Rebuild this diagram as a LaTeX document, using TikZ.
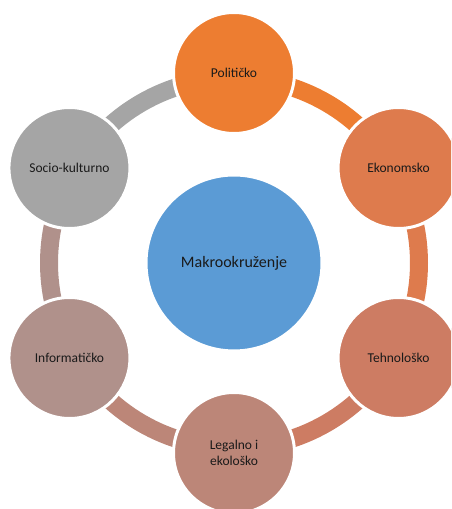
\documentclass[tikz,border=0pt]{standalone}
\usepackage{fontspec}
\setmainfont{Carlito}
\usetikzlibrary{calc}
\definecolor{cPol}{HTML}{ED7D31}
\definecolor{cEko}{HTML}{DE7B4D}
\definecolor{cTeh}{HTML}{CD7C63}
\definecolor{cLeg}{HTML}{BC8678}
\definecolor{cInf}{HTML}{B0918B}
\definecolor{cSoc}{HTML}{A5A5A5}
\definecolor{cCen}{HTML}{5B9BD5}
\definecolor{txt}{HTML}{1A1A1A}
\begin{document}
\begin{tikzpicture}[x=1pt,y=1pt,
  outer/.style={circle, draw=white, line width=3pt, minimum size=121pt, inner sep=0pt,
    font=\fontsize{13.5}{15.5}\selectfont, text=txt, align=center},
  ringarc/.style={line width=18pt}]
\useasboundingbox (0,0) rectangle (451,509);
\clip (0,0) rectangle (451,509);
\coordinate (c) at (234,246);
% ring arcs
\draw[ringarc, cPol] (c) ++(90:185) arc[start angle=90, end angle=30, radius=185];
\draw[ringarc, cEko] (c) ++(30:185) arc[start angle=30, end angle=-30, radius=185];
\draw[ringarc, cTeh] (c) ++(-30:185) arc[start angle=-30, end angle=-90, radius=185];
\draw[ringarc, cLeg] (c) ++(-90:185) arc[start angle=-90, end angle=-150, radius=185];
\draw[ringarc, cInf] (c) ++(-150:185) arc[start angle=-150, end angle=-210, radius=185];
\draw[ringarc, cSoc] (c) ++(150:185) arc[start angle=150, end angle=90, radius=185];
% center
\node[circle, fill=cCen, draw=white, line width=2pt, minimum size=175pt, inner sep=0pt,
  font=\fontsize{16}{18}\selectfont, text=txt] (mak) at (c) {Makrookruženje};
% outer circles
\node[outer, fill=cPol] (pol) at ($(c)+(90:190)$) {Političko};
\node[outer, fill=cEko] (eko) at ($(c)+(30:190)$) {Ekonomsko};
\node[outer, fill=cTeh] (teh) at ($(c)+(-30:190)$) {Tehnološko};
\node[outer, fill=cLeg] (leg) at ($(c)+(-90:190)$) {Legalno i\\ekološko};
\node[outer, fill=cInf] (inf) at ($(c)+(-150:190)$) {Informatičko};
\node[outer, fill=cSoc] (soc) at ($(c)+(150:190)$) {Socio-kulturno};
\end{tikzpicture}
\end{document}
